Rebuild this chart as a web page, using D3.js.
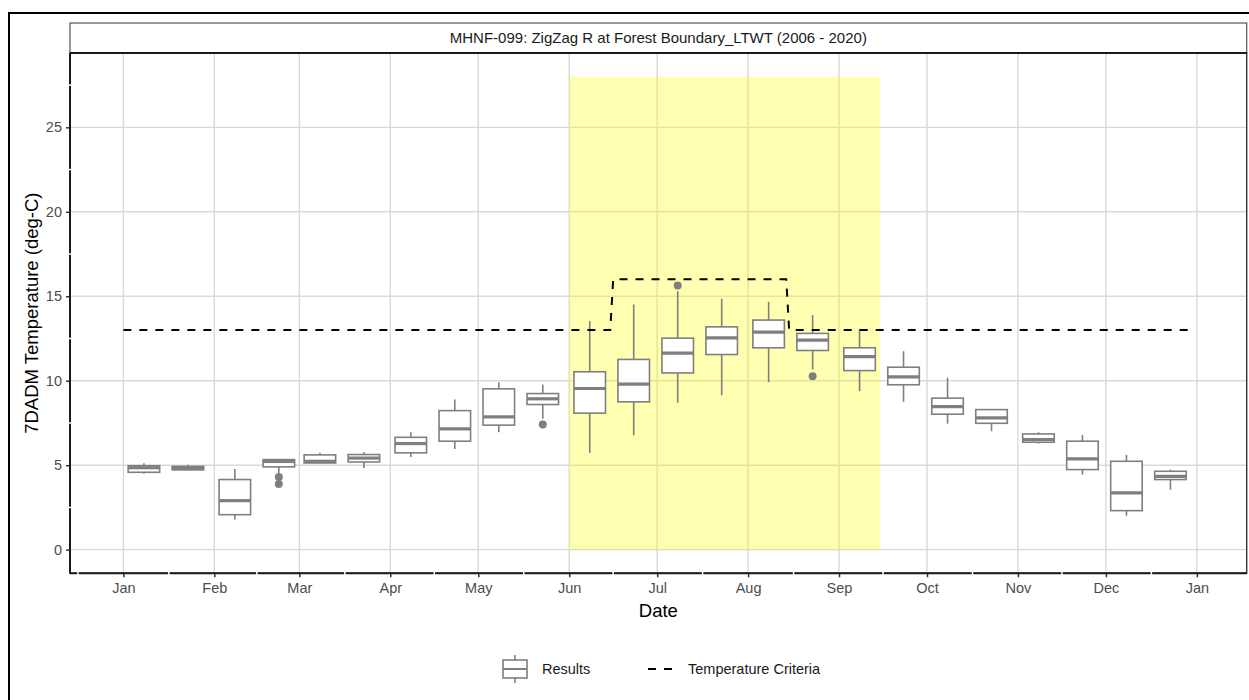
<!DOCTYPE html>
<html>
<head>
<meta charset="utf-8">
<script src="https://cdn.jsdelivr.net/npm/d3@7"></script>
<style>
  html, body { margin: 0; padding: 0; background: #fff; }
  svg { display: block; font-family: "Liberation Sans", Arial, sans-serif; }
</style>
</head>
<body>
<svg id="chart" width="1249" height="700"></svg>
<script>
// ---------------- DATA ----------------
const chartTitle = "MHNF-099: ZigZag R at Forest Boundary_LTWT (2006 - 2020)";
const periodDates = ["2020-01-08","2020-01-23","2020-02-08","2020-02-23","2020-03-08","2020-03-23",
  "2020-04-08","2020-04-23","2020-05-08","2020-05-23","2020-06-08","2020-06-23",
  "2020-07-08","2020-07-23","2020-08-08","2020-08-23","2020-09-08","2020-09-23",
  "2020-10-08","2020-10-23","2020-11-08","2020-11-23","2020-12-08","2020-12-23"];
const whiskerLow  = [4.50,4.70,1.78,4.54,5.10,4.84,5.49,5.96,6.95,7.75,5.73,6.77,8.69,9.14,9.91,10.66,9.38,8.75,7.46,7.01,6.28,4.44,2.01,3.55];
const quartile1   = [4.58,4.72,2.07,4.90,5.13,5.19,5.73,6.42,7.37,8.59,8.08,8.75,10.46,11.55,11.95,11.79,10.60,9.76,8.02,7.48,6.36,4.74,2.31,4.15];
const medians     = [4.85,4.82,2.90,5.22,5.23,5.42,6.28,7.15,7.86,8.93,9.54,9.80,11.63,12.54,12.88,12.40,11.43,10.23,8.47,7.80,6.52,5.37,3.36,4.34];
const quartile3   = [4.97,4.93,4.15,5.33,5.61,5.63,6.65,8.23,9.52,9.24,10.53,11.26,12.52,13.19,13.59,12.80,11.95,10.80,8.97,8.29,6.85,6.42,5.23,4.64];
const whiskerHigh = [5.12,5.03,4.78,5.36,5.73,5.77,6.95,8.89,9.91,9.77,13.53,14.51,15.30,14.85,14.67,13.88,13.07,11.75,10.17,8.32,6.95,6.79,5.61,4.74];
const outlierDates  = ["2020-02-23","2020-02-23","2020-05-23","2020-07-08","2020-08-23"];
const outlierValues = [4.30,3.89,7.41,15.64,10.27];
const criteriaDates  = ["2020-01-01","2020-06-15","2020-06-16","2020-08-14","2020-08-15","2020-12-31"];
const criteriaValues = [13,13,16,16,13,13];
const spawnStart = "2020-06-01", spawnEnd = "2020-09-15", spawnLow = 0, spawnHigh = 28;
const yTicks = [0,5,10,15,20,25];
const yMinor = [2.5,7.5,12.5,17.5,22.5,27.5];
const legendLabels = ["Results","Temperature Criteria"];

// ---------------- SETUP ----------------
const parse = d3.utcParse("%Y-%m-%d");
const DAY = 864e5;
const jan1 = Date.UTC(2020,0,1);
const panel = {left:70, right:1246.7, top:53, bottom:573.3};
const svg = d3.select("#chart");

const x = d3.scaleUtc()
  .domain([new Date(jan1 - 18.2*DAY), new Date(jan1 + 383*DAY)])
  .range([panel.left, panel.right]);
const y = d3.scaleLinear().domain([-1.4, 29.4]).range([panel.bottom, panel.top]);

const boxHalfDays = 5.375;
const boxColor = "#7f7f7f";
const gridColor = "#d9d9d9";

// outer frame
svg.append("rect").attr("x",9).attr("y",13).attr("width",1400).attr("height",900)
  .attr("fill","none").attr("stroke","#000").attr("stroke-width",2);

// strip
svg.append("rect").attr("x",panel.left).attr("y",23).attr("width",panel.right-panel.left).attr("height",30)
  .attr("fill","#fff").attr("stroke","#555").attr("stroke-width",1.2);
svg.append("text").attr("x",(panel.left+panel.right)/2).attr("y",38).attr("dy","0.35em")
  .attr("text-anchor","middle").attr("font-size",15).attr("fill","#1a1a1a").text(chartTitle);

// gridlines
const monthTicks = d3.utcMonth.range(new Date(jan1), new Date(Date.UTC(2021,0,2)));
const g = svg.append("g");
g.selectAll(".hg").data(yTicks).join("line")
  .attr("x1",panel.left).attr("x2",panel.right)
  .attr("y1",d=>y(d)).attr("y2",d=>y(d))
  .attr("stroke",gridColor).attr("stroke-width",1.4);
g.selectAll(".vg").data(monthTicks).join("line")
  .attr("x1",d=>x(d)).attr("x2",d=>x(d))
  .attr("y1",panel.top).attr("y2",panel.bottom)
  .attr("stroke",gridColor).attr("stroke-width",1.4);

// highlight rect
svg.append("rect")
  .attr("x",x(parse(spawnStart))).attr("width",x(parse(spawnEnd))-x(parse(spawnStart)))
  .attr("y",y(spawnHigh)).attr("height",y(spawnLow)-y(spawnHigh))
  .attr("fill","yellow").attr("fill-opacity",0.3);

// boxes
const boxes = periodDates.map((d,i)=>({date:parse(d), lo:whiskerLow[i], q1:quartile1[i], med:medians[i], q3:quartile3[i], hi:whiskerHigh[i]}));
const bg = svg.append("g");
boxes.forEach(b=>{
  const cx = x(b.date);
  const x0 = x(new Date(+b.date - boxHalfDays*DAY));
  const x1 = x(new Date(+b.date + boxHalfDays*DAY));
  bg.append("line").attr("x1",cx).attr("x2",cx).attr("y1",y(b.hi)).attr("y2",y(b.q3))
    .attr("stroke",boxColor).attr("stroke-width",1.6);
  bg.append("line").attr("x1",cx).attr("x2",cx).attr("y1",y(b.q1)).attr("y2",y(b.lo))
    .attr("stroke",boxColor).attr("stroke-width",1.6);
  bg.append("rect").attr("x",x0).attr("width",x1-x0)
    .attr("y",y(b.q3)).attr("height",y(b.q1)-y(b.q3))
    .attr("fill","#fff").attr("stroke",boxColor).attr("stroke-width",1.6);
  bg.append("line").attr("x1",x0).attr("x2",x1).attr("y1",y(b.med)).attr("y2",y(b.med))
    .attr("stroke",boxColor).attr("stroke-width",3.2);
});
bg.selectAll(".out").data(outlierDates.map((d,i)=>({date:parse(d), v:outlierValues[i]}))).join("circle")
  .attr("cx",d=>x(d.date)).attr("cy",d=>y(d.v)).attr("r",4).attr("fill",boxColor);

// criteria line
const crit = criteriaDates.map((d,i)=>({date:parse(d), v:criteriaValues[i]}));
svg.append("path").datum(crit)
  .attr("d", d3.line().x(d=>x(d.date)).y(d=>y(d.v)))
  .attr("fill","none").attr("stroke","#000").attr("stroke-width",2).attr("stroke-dasharray","8,8");

// panel border
svg.append("rect").attr("x",panel.left).attr("y",panel.top)
  .attr("width",panel.right-panel.left).attr("height",panel.bottom-panel.top)
  .attr("fill","none").attr("stroke","#333").attr("stroke-width",1.4);
svg.append("line").attr("x1",panel.left).attr("x2",panel.right).attr("y1",panel.top).attr("y2",panel.top)
  .attr("stroke","#1a1a1a").attr("stroke-width",2);

// axes
const yAxis = d3.axisLeft(y).tickValues(yTicks).tickSize(4).tickPadding(4);
const ya = svg.append("g").attr("transform",`translate(${panel.left},0)`).call(yAxis);
const xAxis = d3.axisBottom(x).tickValues(monthTicks).tickFormat(d3.utcFormat("%b")).tickSize(4).tickPadding(5);
const xa = svg.append("g").attr("transform",`translate(0,${panel.bottom})`).call(xAxis);
[ya,xa].forEach(a=>{
  a.select(".domain").remove();
  a.selectAll(".tick line").attr("stroke","#333").attr("stroke-width",1.5);
  a.selectAll(".tick text").attr("fill","#4d4d4d").attr("font-size",14.5)
    .attr("font-family","'Liberation Sans', Arial, sans-serif");
});
svg.append("line").attr("x1",panel.left).attr("x2",panel.left).attr("y1",panel.top).attr("y2",panel.bottom)
  .attr("stroke","#1a1a1a").attr("stroke-width",2);
svg.append("line").attr("x1",panel.left).attr("x2",panel.right).attr("y1",panel.bottom).attr("y2",panel.bottom)
  .attr("stroke","#1a1a1a").attr("stroke-width",2);
// small white breaks at minor positions
svg.selectAll(".ymin").data(yMinor.filter(v=>y(v)>panel.top)).join("line")
  .attr("x1",panel.left-2).attr("x2",panel.left+2).attr("y1",d=>y(d)).attr("y2",d=>y(d))
  .attr("stroke","#fff").attr("stroke-width",1.5);
const xMinor = [new Date(jan1 - 15.5*DAY)].concat(monthTicks.slice(0,-1).map((m,i)=>new Date((+m + +monthTicks[i+1])/2)));
svg.selectAll(".xmin").data(xMinor).join("line")
  .attr("x1",d=>x(d)).attr("x2",d=>x(d)).attr("y1",panel.bottom-2).attr("y2",panel.bottom+2)
  .attr("stroke","#fff").attr("stroke-width",1.5);

// axis titles
svg.append("text").attr("x",(panel.left+panel.right)/2).attr("y",617)
  .attr("text-anchor","middle").attr("font-size",18.5).attr("fill","#000").text("Date");
svg.append("text").attr("transform",`translate(38,${(panel.top+panel.bottom)/2}) rotate(-90)`)
  .attr("text-anchor","middle").attr("font-size",18.5).attr("fill","#000").text("7DADM Temperature (deg-C)");

// legend
const lg = svg.append("g");
const lcx = 515, lcy = 669;
lg.append("line").attr("x1",lcx).attr("x2",lcx).attr("y1",655).attr("y2",683).attr("stroke",boxColor).attr("stroke-width",1.6);
lg.append("rect").attr("x",503).attr("y",660).attr("width",24).attr("height",18)
  .attr("fill","#fff").attr("stroke",boxColor).attr("stroke-width",1.6);
lg.append("line").attr("x1",503).attr("x2",527).attr("y1",lcy).attr("y2",lcy).attr("stroke",boxColor).attr("stroke-width",2);
lg.append("text").attr("x",542).attr("y",lcy).attr("dy","0.35em").attr("font-size",14.5).attr("fill","#1a1a1a").text(legendLabels[0]);
lg.append("line").attr("x1",648).attr("x2",673).attr("y1",lcy).attr("y2",lcy)
  .attr("stroke","#000").attr("stroke-width",2).attr("stroke-dasharray","8,8");
lg.append("text").attr("x",688).attr("y",lcy).attr("dy","0.35em").attr("font-size",14.5).attr("fill","#1a1a1a").text(legendLabels[1]);
</script>
</body>
</html>
